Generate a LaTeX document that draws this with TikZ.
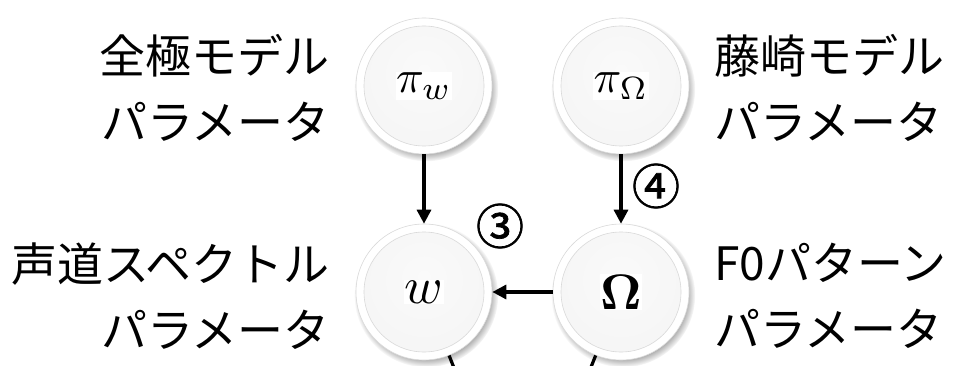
\RequirePackage{fix-cm}
\documentclass[tikz,border=0pt]{standalone}
\usepackage[no-math]{fontspec}
\newfontfamily\jp{Noto Sans CJK JP}
\newfontfamily\circfont[FakeBold=1.5]{Noto Sans CJK JP}
\usetikzlibrary{shadows,arrows.meta}
\pgfdeclareradialshading{diskshade}{\pgfpoint{0bp}{6bp}}{%
  color(0bp)=(gray!4); color(30bp)=(gray!8); color(41bp)=(gray!16); color(47bp)=(gray!38); color(50bp)=(gray!62)}
\tikzset{
  ball/.style={circle, minimum size=136pt, inner sep=0pt, fill=white,
    draw=gray!30, line width=0.6pt,
    circular drop shadow={shadow xshift=2pt, shadow yshift=-3pt, opacity=.8, shadow scale=1.06},
    path picture={\fill[shading=diskshade] (path picture bounding box.center) circle[radius=60pt];
                  \draw[gray!30, line width=0.6pt] (path picture bounding box.center) circle[radius=60pt];}},
  lbl/.style={font=\jp\fontsize{46}{66}\selectfont, inner sep=0pt},
  conn/.style={line width=3.2pt, -{Triangle[length=14pt,width=14pt]}},
  plain/.style={line width=3.2pt},
  num/.style={font=\circfont\fontsize{48}{50}\selectfont, inner sep=0pt}
}
\setlength{\fboxsep}{0.4pt}
\begin{document}
\begin{tikzpicture}[x=1pt,y=-1pt]
\useasboundingbox (0,0) rectangle (966,366);
\clip (0,0) rectangle (966,366);
\fill[white] (0,0) rectangle (966,366);
\node[ball] (pw) at (424,86) {\colorbox{white}{\scalebox{4.6}{$\pi_w$}}};
\node[ball] (po) at (621,86) {\colorbox{white}{\scalebox{4.6}{$\pi_\Omega$}}};
\node[ball] (w)  at (424,292) {\colorbox{white}{\scalebox{5.2}{$w$}}};
\node[ball] (om) at (621,292) {\colorbox{white}{\scalebox{5.0}{$\mathbf{\Omega}$}}};
\coordinate (below) at (522,540);
\draw[conn] (pw) -- (w);
\draw[conn] (po) -- (om);
\draw[conn] (om) -- (w);
\draw[plain] (w) -- (below);
\draw[plain] (om) -- (below);
\node[lbl, align=right, anchor=east] (l1) at (330,88) {全極モデル\\パラメータ};
\node[lbl, align=right, anchor=east] (l2) at (330,296) {声道スペクトル\\パラメータ};
\node[lbl, align=left, anchor=west] (r1) at (714,88) {藤崎モデル\\パラメータ};
\node[lbl, align=left, anchor=west] (r2) at (714,296) {F0パターン\\パラメータ};
\node[num] (n3) at (500,226) {③};
\node[num] (n4) at (656,186) {④};
\end{tikzpicture}
\end{document}
